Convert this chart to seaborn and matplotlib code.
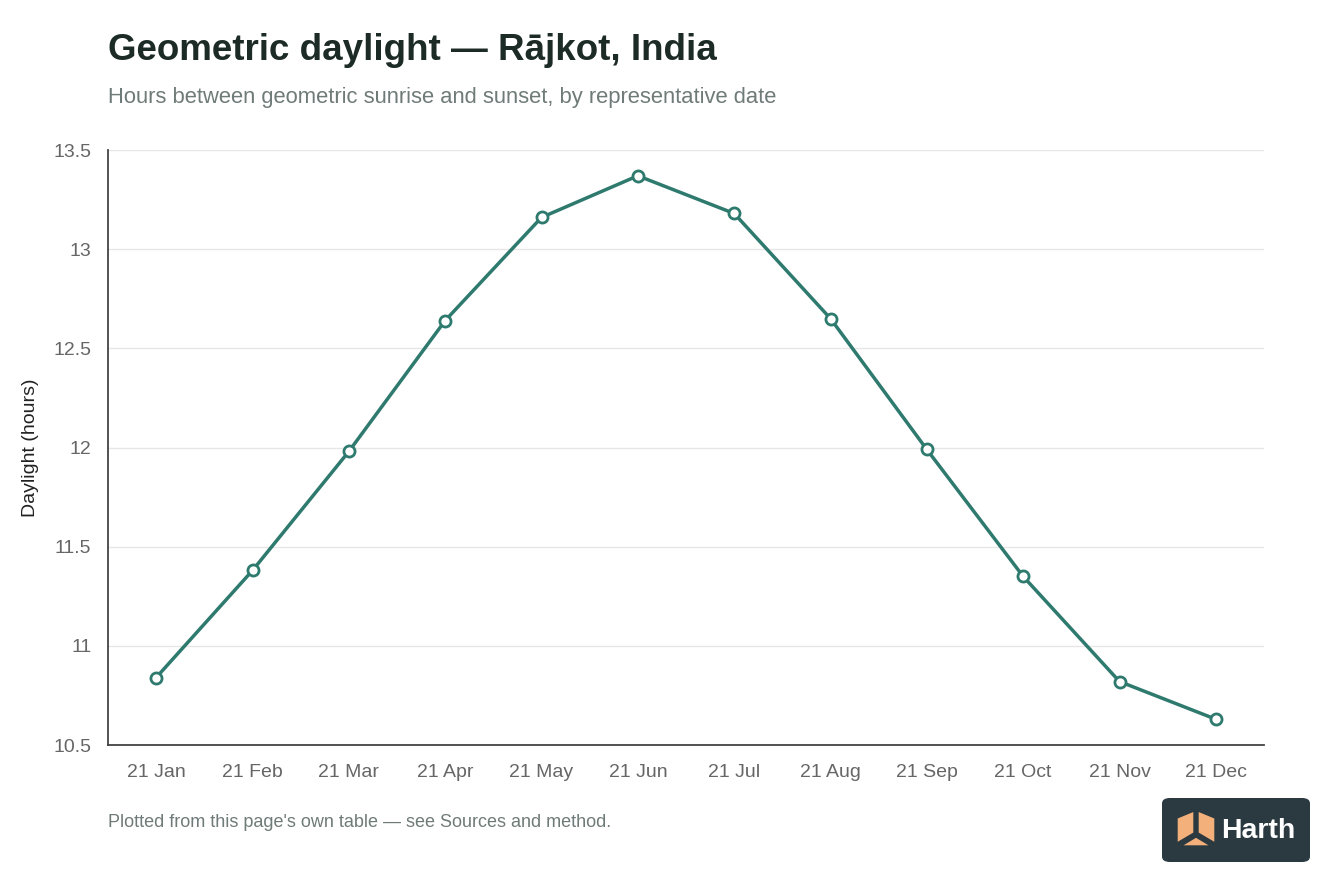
import numpy as np
import pandas as pd
import matplotlib
matplotlib.use('Agg')
import matplotlib.pyplot as plt
from matplotlib.patches import FancyBboxPatch, Polygon
import seaborn as sns

# 날짜별 일조 시간
dates = ['21 Jan', '21 Feb', '21 Mar', '21 Apr', '21 May', '21 Jun',
         '21 Jul', '21 Aug', '21 Sep', '21 Oct', '21 Nov', '21 Dec']
hours = [10.84, 11.38, 11.98, 12.64, 13.16, 13.37,
         13.18, 12.65, 11.99, 11.35, 10.82, 10.63]
yticks = [10.5, 11, 11.5, 12, 12.5, 13, 13.5]
ytick_labels = ['10.5', '11', '11.5', '12', '12.5', '13', '13.5']

df = pd.DataFrame({'date': dates, 'hours': hours})

sns.set_theme(style='white')
plt.rcParams['font.family'] = ['Liberation Sans', 'DejaVu Sans']

line_col = '#2f7a6e'

fig = plt.figure(figsize=(13.44, 8.96), dpi=100)
ax = fig.add_axes([108/1344, 1 - 745/896, 1156/1344, 595/896])

sns.lineplot(data=df, x='date', y='hours', ax=ax, color=line_col, linewidth=2.5,
             marker='o', markersize=8, markerfacecolor='white',
             markeredgecolor=line_col, markeredgewidth=2, sort=False)

ax.set_xlim(-0.5, len(dates) - 0.5)
ax.set_ylim(10.5, 13.5)
ax.set_yticks(yticks)
ax.set_yticklabels(ytick_labels)
ax.yaxis.grid(True, color='#e6e6e6', linewidth=1)
ax.set_axisbelow(True)
for s in ['top', 'right']:
    ax.spines[s].set_visible(False)
for s in ['left', 'bottom']:
    ax.spines[s].set_color('#444444')
    ax.spines[s].set_linewidth(1.3)
ax.tick_params(axis='both', length=0, labelsize=14, colors='#666666', pad=14)
ax.tick_params(axis='y', pad=12)
ax.set_xlabel('')
ax.set_ylabel('Daylight (hours)', fontsize=14, color='#222222', labelpad=10)

# 제목 / 부제 / 주석
fig.text(108/1344, 1 - 50/896, 'Geometric daylight — Rājkot, India', fontsize=26.5,
         fontweight='bold', color='#1d2b27', va='center', ha='left')
fig.text(108/1344, 1 - 97/896, 'Hours between geometric sunrise and sunset, by representative date',
         fontsize=15.8, color='#6f7b78', va='center', ha='left')
fig.text(108/1344, 1 - 822/896, "Plotted from this page's own table — see Sources and method.",
         fontsize=13, color='#6f7b78', va='center', ha='left')

# 로고 배지
lx0, ly0, lw, lh = 1162/1344, 1 - 862/896, 148/1344, 64/896
badge = FancyBboxPatch((lx0, ly0), lw, lh, boxstyle='round,pad=0,rounding_size=0.006',
                       transform=fig.transFigure, facecolor='#2b3940', edgecolor='none')
fig.patches.append(badge)
cx, cy = 1196, 830
def P(x, y):
    return (x/1344, 1 - y/896)
cube_l = Polygon([P(cx-19, cy-12), P(cx-2, cy-19), P(cx-2, cy+3), P(cx-19, cy+13)],
                 closed=True, transform=fig.transFigure, facecolor='#f4b07a', edgecolor='#2b3940', lw=1)
cube_r = Polygon([P(cx+2, cy-19), P(cx+19, cy-12), P(cx+19, cy+13), P(cx+2, cy+3)],
                 closed=True, transform=fig.transFigure, facecolor='#f4b07a', edgecolor='#2b3940', lw=1)
cube_b = Polygon([P(cx-15, cy+16), P(cx, cy+7), P(cx+15, cy+16)],
                 closed=True, transform=fig.transFigure, facecolor='#f4b07a', edgecolor='#2b3940', lw=1)
for p in [cube_l, cube_r, cube_b]:
    fig.patches.append(p)
fig.text(1221/1344, 1 - 831/896, 'Harth', fontsize=20.5, fontweight='bold',
         color='white', va='center', ha='left')

fig.savefig('out.png', dpi=100, facecolor='white')
